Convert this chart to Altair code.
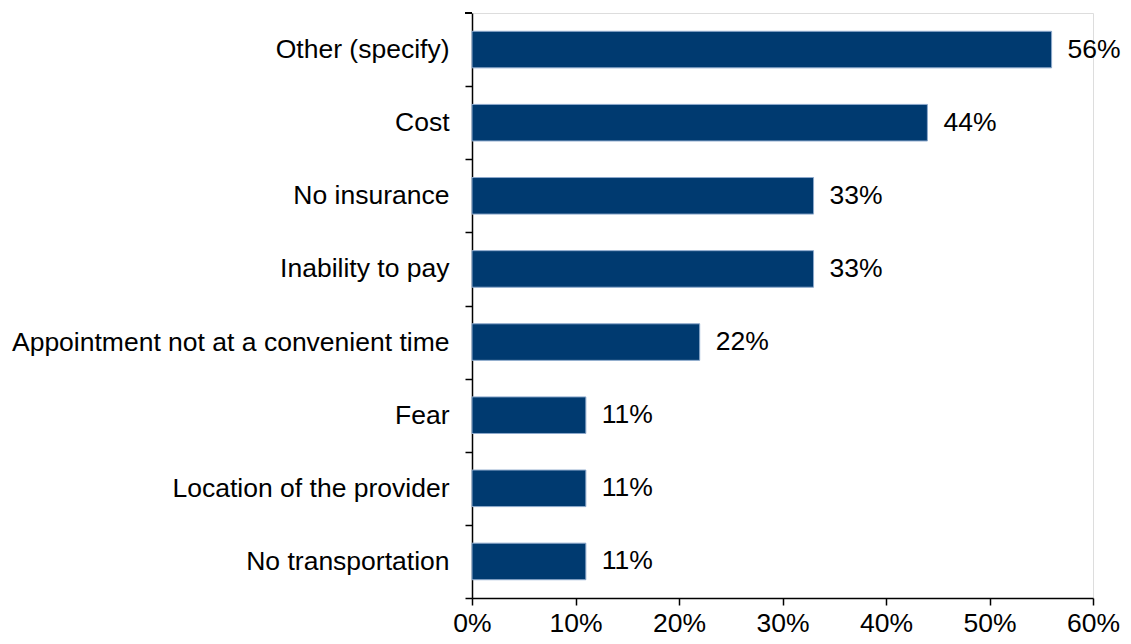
import altair as alt
import pandas as pd

categories = [
    "Other (specify)",
    "Cost",
    "No insurance",
    "Inability to pay",
    "Appointment not at a convenient time",
    "Fear",
    "Location of the provider",
    "No transportation",
]
values = [56, 44, 33, 33, 22, 11, 11, 11]
x_ticks = [0, 10, 20, 30, 40, 50, 60]

df = pd.DataFrame({"category": categories, "value": [v / 100 for v in values]})

FONT = "Liberation Sans"
FS = 26.5
H = 585
STEP = H / 8.0

y_enc = alt.Y(
    "category:N",
    sort=categories,
    title=None,
    scale=alt.Scale(paddingInner=0.5, paddingOuter=0.25),
    axis=alt.Axis(
        domainColor="black",
        domainWidth=1.5,
        tickColor="black",
        tickWidth=1.5,
        tickSize=7,
        tickOffset=STEP / 2,
        labelOffset=-STEP / 2,
        labelFont=FONT,
        labelFontSize=FS,
        labelColor="black",
        labelPadding=16,
        labelLimit=600,
        grid=False,
    ),
)

x_enc = alt.X(
    "value:Q",
    title=None,
    scale=alt.Scale(domain=[0, 0.6], nice=False),
    axis=alt.Axis(
        values=[t / 100 for t in x_ticks],
        format=".0%",
        domainColor="black",
        domainWidth=1.5,
        tickColor="black",
        tickWidth=1.5,
        tickSize=7,
        labelFlush=False,
        labelFont=FONT,
        labelFontSize=FS,
        labelColor="black",
        labelPadding=5,
        grid=False,
    ),
)

bars = alt.Chart(df).mark_bar(
    color="#003A70", stroke="#8DA9CC", strokeWidth=1
).encode(x=x_enc, y=y_enc)

labels = alt.Chart(df).mark_text(
    align="left", baseline="middle", dx=16, font=FONT, fontSize=FS, color="black"
).encode(
    x=alt.X("value:Q"),
    y=alt.Y("category:N", sort=categories),
    text=alt.Text("value:Q", format=".0%"),
)

# top end tick of the category axis (the other boundaries come from the axis)
top_tick = alt.Chart(df).mark_rule(color="black", strokeWidth=1.5).encode(
    x=alt.value(-7), x2=alt.value(0), y=alt.value(0)
)

chart = (
    alt.layer(bars, labels, top_tick)
    .properties(
        width=621,
        height=H,
        autosize=alt.AutoSizeParams(type="none"),
        padding={"left": 464, "top": 5, "right": 30, "bottom": 38},
    )
    .configure_view(strokeWidth=0, stroke="transparent")
    .configure(background="white")
)

chart.save("out.html", embed_options={"renderer": "svg", "actions": False})
